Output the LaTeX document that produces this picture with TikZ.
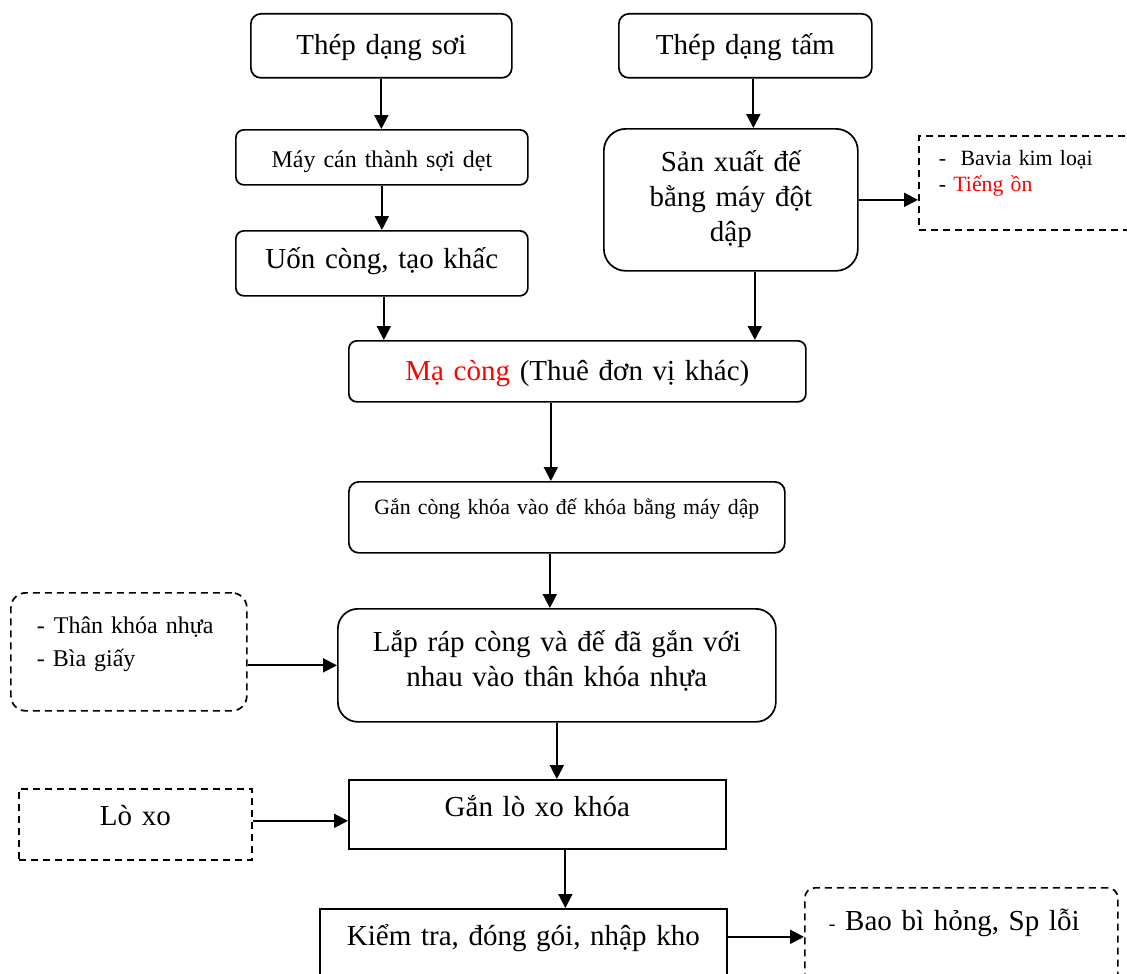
\documentclass[tikz,border=0pt]{standalone}
\usepackage{fontspec}
\setmainfont{Liberation Serif}
\usetikzlibrary{arrows.meta}
\begin{document}
\begin{tikzpicture}[x=1pt,y=-1pt,
  box/.style={draw, line width=1.7pt, inner sep=0pt, anchor=north west, align=center},
  dbox/.style={box, dash pattern=on 7pt off 5pt},
  arr/.style={line width=2pt, -{Triangle[length=14pt,width=14pt]}},
  big/.style={font=\fontsize{29}{35}\selectfont}]
\useasboundingbox (0,0) rectangle (1127,974);
% main boxes
\node[box, rounded corners=10pt, big, text width=261pt, text height=41pt, text depth=23pt] (A) at (250,13) {Thép dạng sơi};
\node[box, rounded corners=10pt, big, text width=253pt, text height=41pt, text depth=23pt] (B) at (618,13) {Thép dạng tấm};
\node[box, rounded corners=8pt, font=\fontsize{24}{30}\selectfont, text width=292pt, text height=38pt, text depth=17pt] (C) at (235,129) {Máy cán thành sợi dẹt};
\node[box, rounded corners=8pt, big, text width=292pt, text height=38pt, text depth=27pt] (D) at (235,230) {Uốn còng, tạo khấc};
\node[box, rounded corners=22pt, font=\fontsize{29}{35}\selectfont, text width=254pt, text height=43pt, text depth=99pt] (E) at (603,128) {Sản xuất đế\\bằng máy đột\\dập};
\node[dbox, align=left, inner xsep=20pt, font=\fontsize{21.8}{26}\selectfont, text width=190pt, text height=30pt, text depth=64pt] (F) at (918,135) {-\ \ Bavia kim loại\\- \textcolor{red}{Tiếng ồn}};
\node[box, rounded corners=8pt, big, text width=457pt, text height=40pt, text depth=21pt] (G) at (348,340) {\textcolor{red}{Mạ còng} (Thuê đơn vị khác)};
\node[box, rounded corners=10pt, font=\fontsize{21.8}{28}\selectfont, text width=436pt, text height=33pt, text depth=38pt] (H) at (348,481) {Gắn còng khóa vào đế khóa bằng máy dập};
\node[box, rounded corners=20pt, big, text width=438pt, text height=43pt, text depth=70pt] (I) at (337,608) {Lắp ráp còng và đế đã gắn với\\nhau vào thân khóa nhựa};
\node[dbox, rounded corners=15pt, align=left, inner xsep=26pt, font=\fontsize{24}{33}\selectfont, text width=184pt, text height=41pt, text depth=77pt] (J) at (10,592) {-\hspace{9pt}Thân khóa nhựa\\- Bìa giấy};
\node[box, big, text width=377pt, text height=37pt, text depth=32pt] (K) at (348,779) {Gắn lò xo khóa\hspace{6pt}};
\node[dbox, big, text width=233pt, text height=37pt, text depth=34pt] (L) at (18,788) {Lò xo};
\node[box, big, text width=407pt, text height=37pt, text depth=50pt] (M) at (319,908) {Kiểm tra, đóng gói, nhập kho\hspace{6pt}};
\node[dbox, rounded corners=10pt, align=left, inner xsep=24pt, big, text width=265pt, text height=43pt, text depth=55pt] (N) at (804,887) {{\fontsize{20}{24}\selectfont-} Bao bì hỏng, Sp lỗi};
% connectors
\draw[arr] (A.south) -- (A.south |- C.north);
\draw[arr] (C.south) -- (C.south |- D.north);
\draw[arr] ([xshift=2pt]D.south) -- ([xshift=2pt]D.south |- G.north);
\draw[arr] ([xshift=8pt]B.south) -- ([xshift=8pt]B.south |- E.north);
\draw[arr] ([xshift=24pt]E.south) -- ([xshift=24pt]E.south |- G.north);
\draw[arr] (E.east) -- (E.east -| F.west);
\draw[arr] ([xshift=-16pt]H.north |- G.south) -- ([xshift=-16pt]H.north);
\draw[arr] ([xshift=-17pt]H.south) -- ([xshift=-17pt]H.south |- I.north);
\draw[arr] (I.west -| J.east) -- (I.west);
\draw[arr] (I.south) -- (I.south |- K.north);
\draw[arr] ([yshift=3.5pt]L.east) -- ([yshift=3.5pt]L.east -| K.west);
\draw[arr] ([xshift=28pt]K.south) -- ([xshift=28pt]K.south |- M.north);
\draw[arr] (N.west -| M.east) -- (N.west);
\end{tikzpicture}
\end{document}
